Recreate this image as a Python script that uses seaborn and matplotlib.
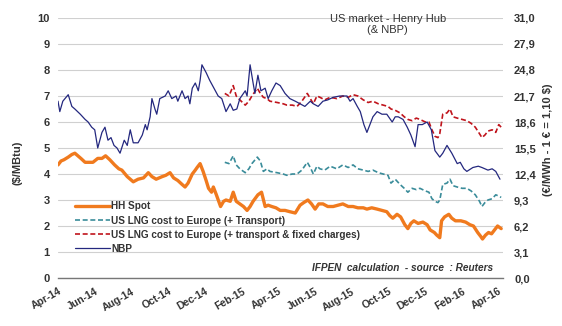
import matplotlib
matplotlib.use("Agg")
import matplotlib.pyplot as plt
import matplotlib.dates as mdates
import matplotlib.ticker as mticker
import seaborn as sns
import pandas as pd

# ---------------- data ----------------
nbp_dates = ["2014-04-01","2014-04-04","2014-04-09","2014-04-18","2014-04-24","2014-04-29","2014-05-08","2014-05-16",
 "2014-05-21","2014-05-27","2014-06-01","2014-06-06","2014-06-13","2014-06-18","2014-06-23","2014-06-28","2014-07-03",
 "2014-07-08","2014-07-13","2014-07-20","2014-07-25","2014-07-30","2014-08-04","2014-08-12","2014-08-19","2014-08-24",
 "2014-08-27","2014-09-01","2014-09-04","2014-09-09","2014-09-12","2014-09-17","2014-09-26","2014-10-01","2014-10-07",
 "2014-10-14","2014-10-17","2014-10-24","2014-10-29","2014-11-03","2014-11-06","2014-11-10","2014-11-15","2014-11-20",
 "2014-11-23","2014-11-26","2014-12-03","2014-12-09","2014-12-16","2014-12-23","2014-12-29","2015-01-05","2015-01-12",
 "2015-01-17","2015-01-23","2015-01-28","2015-02-06","2015-02-09","2015-02-14","2015-02-19","2015-02-22","2015-02-27",
 "2015-03-04","2015-03-11","2015-03-16","2015-03-22","2015-03-29","2015-04-05","2015-04-13","2015-04-21","2015-04-30",
 "2015-05-08","2015-05-16","2015-05-25","2015-05-30","2015-06-07","2015-06-15","2015-06-23","2015-07-02","2015-07-13",
 "2015-07-25","2015-07-30","2015-08-04","2015-08-11","2015-08-16","2015-08-22","2015-08-27","2015-09-01","2015-09-06",
 "2015-09-13","2015-09-21","2015-09-29","2015-10-08","2015-10-13","2015-10-18","2015-10-26","2015-11-02","2015-11-08",
 "2015-11-15","2015-11-20","2015-11-27","2015-12-05","2015-12-12","2015-12-18","2015-12-26","2015-12-31","2016-01-07",
 "2016-01-15","2016-01-24","2016-01-29","2016-02-04","2016-02-09","2016-02-19","2016-02-28","2016-03-05","2016-03-15",
 "2016-03-22","2016-03-28","2016-04-04"]
nbp_values = [6.8,6.4,6.8,7.05,6.6,6.5,6.3,6.1,6.0,5.8,5.7,5.0,5.6,5.8,5.3,5.4,5.1,5.0,4.8,5.3,5.1,5.7,5.2,5.2,5.5,5.9,
 5.7,6.2,6.9,6.5,6.3,6.9,7.0,7.2,6.9,7.0,6.8,7.2,6.9,7.0,6.7,7.3,7.5,7.2,7.6,8.2,7.9,7.6,7.3,7.0,6.9,6.4,6.7,6.45,6.5,
 6.9,7.2,7.0,8.2,7.5,7.1,7.8,7.2,7.3,6.9,7.2,7.5,7.4,7.1,6.9,6.8,6.7,6.6,6.8,6.7,6.6,6.8,6.85,6.95,7.0,7.0,6.8,6.9,
 6.6,6.4,5.9,5.6,5.9,6.2,6.4,6.3,6.3,6.0,6.2,6.2,6.1,5.8,5.5,5.05,5.9,5.9,6.0,5.7,4.9,4.65,4.8,5.1,4.8,4.4,4.45,4.2,
 4.1,4.25,4.3,4.25,4.15,4.2,4.1,3.8]

lng_dates = ["2015-01-03","2015-01-10","2015-01-17","2015-01-22","2015-01-28","2015-02-06","2015-02-12","2015-02-17",
 "2015-02-26","2015-03-03","2015-03-08","2015-03-14","2015-03-19","2015-03-31","2015-04-10","2015-04-16","2015-04-25",
 "2015-05-03","2015-05-11","2015-05-20","2015-05-25","2015-05-30","2015-06-05","2015-06-10","2015-06-18","2015-06-27",
 "2015-07-08","2015-07-18","2015-07-27","2015-08-04","2015-08-12","2015-08-21","2015-08-29","2015-09-06","2015-09-15",
 "2015-09-23","2015-10-01","2015-10-06","2015-10-13","2015-10-21","2015-10-28","2015-11-03","2015-11-10","2015-11-17",
 "2015-11-23","2015-12-02","2015-12-08","2015-12-13","2015-12-18","2015-12-23","2015-12-26","2015-12-31","2016-01-07",
 "2016-01-12","2016-01-17","2016-01-24","2016-02-01","2016-02-09","2016-02-16","2016-02-23","2016-03-01","2016-03-05",
 "2016-03-10","2016-03-15","2016-03-22","2016-03-28","2016-04-02","2016-04-06"]
lng_transport = [4.45,4.4,4.7,4.35,4.2,4.05,4.2,4.4,4.65,4.5,4.1,4.2,4.1,4.05,4.0,3.95,4.0,4.0,4.15,4.45,4.25,4.0,4.3,
 4.2,4.15,4.3,4.2,4.35,4.25,4.35,4.2,4.15,4.1,4.15,4.05,4.0,3.95,3.65,3.8,3.6,3.45,3.3,3.45,3.4,3.45,3.35,3.3,3.05,
 2.95,2.9,3.0,3.6,3.65,3.8,3.55,3.5,3.45,3.45,3.35,3.2,2.95,2.75,2.9,3.0,3.05,3.2,3.15,3.1]
lng_full = [7.1,7.0,7.4,7.0,6.85,6.65,6.8,7.0,7.3,7.1,6.95,6.9,6.8,6.75,6.7,6.65,6.65,6.6,6.8,7.1,6.9,6.7,7.0,6.95,
 6.85,6.95,6.9,7.0,6.95,7.05,7.0,6.85,6.75,6.8,6.7,6.65,6.6,6.5,6.45,6.35,6.2,6.1,6.05,6.15,6.1,6.0,6.0,5.7,5.45,
 5.4,5.55,6.3,6.35,6.5,6.2,6.15,6.1,6.05,5.95,5.8,5.55,5.4,5.5,5.65,5.7,5.6,5.9,5.8]

hh_dates = ["2014-04-01","2014-04-06","2014-04-11","2014-04-18","2014-04-24","2014-04-29","2014-05-04","2014-05-09",
 "2014-05-16","2014-05-21","2014-05-29","2014-06-06","2014-06-13","2014-06-19","2014-06-26","2014-07-04","2014-07-11",
 "2014-07-16","2014-07-25","2014-07-30","2014-08-04","2014-08-12","2014-08-21","2014-08-29","2014-09-04","2014-09-11",
 "2014-09-21","2014-09-27","2014-10-04","2014-10-10","2014-10-17","2014-10-24","2014-10-29","2014-11-03","2014-11-10",
 "2014-11-15","2014-11-18","2014-11-23","2014-11-28","2014-12-03","2014-12-07","2014-12-12","2014-12-15","2014-12-20",
 "2014-12-27","2015-01-01","2015-01-05","2015-01-12","2015-01-17","2015-01-22","2015-01-28","2015-02-03","2015-02-09",
 "2015-02-14","2015-02-19","2015-02-27","2015-03-05","2015-03-11","2015-03-16","2015-03-22","2015-03-29","2015-04-05",
 "2015-04-13","2015-04-21","2015-04-30","2015-05-08","2015-05-14","2015-05-21","2015-05-27","2015-06-02","2015-06-08",
 "2015-06-15","2015-06-23","2015-07-02","2015-07-10","2015-07-18","2015-07-27","2015-08-04","2015-08-12","2015-08-21",
 "2015-08-27","2015-09-04","2015-09-13","2015-09-21","2015-09-29","2015-10-04","2015-10-09","2015-10-16","2015-10-22",
 "2015-10-29","2015-11-03","2015-11-08","2015-11-13","2015-11-20","2015-11-28","2015-12-05","2015-12-10","2015-12-17",
 "2015-12-21","2015-12-26","2015-12-29","2016-01-03","2016-01-10","2016-01-15","2016-01-21","2016-01-30","2016-02-07",
 "2016-02-14","2016-02-20","2016-02-27","2016-03-03","2016-03-06","2016-03-11","2016-03-16","2016-03-21","2016-03-26",
 "2016-03-31","2016-04-06"]
hh_values = [4.35,4.5,4.55,4.65,4.75,4.8,4.7,4.6,4.45,4.45,4.45,4.6,4.6,4.7,4.55,4.35,4.2,4.15,3.9,3.8,3.7,3.8,3.85,
 4.05,3.9,3.8,3.9,3.95,4.05,3.85,3.75,3.6,3.5,3.65,4.0,4.15,4.25,4.4,4.1,3.75,3.45,3.3,3.5,3.2,2.75,2.95,3.0,2.95,
 3.3,2.95,2.85,2.75,2.6,2.75,2.95,3.2,3.3,2.75,2.8,2.75,2.7,2.6,2.6,2.55,2.5,2.8,2.9,3.0,2.85,2.65,2.85,2.85,2.75,
 2.75,2.8,2.85,2.75,2.75,2.7,2.7,2.65,2.7,2.65,2.6,2.55,2.4,2.3,2.45,2.35,2.05,1.9,2.1,2.2,2.1,2.15,2.05,1.85,1.75,
 1.65,1.55,2.2,2.35,2.45,2.3,2.2,2.2,2.15,2.05,2.0,1.75,1.6,1.5,1.65,1.75,1.7,1.85,2.0,1.9]

legend_labels = ["HH Spot", "US LNG cost to Europe (+ Transport)",
                 "US LNG cost to Europe (+ transport & fixed charges)", "NBP"]
tick_dates = ["2014-04-01","2014-06-01","2014-08-01","2014-10-01","2014-12-01","2015-02-01","2015-04-01",
              "2015-06-01","2015-08-01","2015-10-01","2015-12-01","2016-02-01","2016-04-01"]
right_ticks = [0.0, 3.1, 6.2, 9.3, 12.4, 15.5, 18.6, 21.7, 24.8, 27.9, 31.0]

# ---------------- plot ----------------
sns.set_style("white")
plt.rcParams['font.family'] = ['Liberation Sans', 'DejaVu Sans']
txt = "#333333"

fig = plt.figure(figsize=(5.62, 3.26), dpi=100)
ax = fig.add_axes([0.1032, 0.1472, 0.7918, 0.7976])

df_hh = pd.DataFrame({"date": pd.to_datetime(hh_dates), "v": hh_values})
df_lng = pd.DataFrame({"date": pd.to_datetime(lng_dates), "t": lng_transport, "f": lng_full})
df_nbp = pd.DataFrame({"date": pd.to_datetime(nbp_dates), "v": nbp_values})

sns.lineplot(data=df_hh, x="date", y="v", ax=ax, color="#F07A1E", lw=2.4, label=legend_labels[0])
sns.lineplot(data=df_lng, x="date", y="t", ax=ax, color="#3A8C9A", lw=1.2, ls=(0, (3, 1.6)), label=legend_labels[1])
sns.lineplot(data=df_lng, x="date", y="f", ax=ax, color="#C0141C", lw=1.2, ls=(0, (3, 1.6)), label=legend_labels[2])
sns.lineplot(data=df_nbp, x="date", y="v", ax=ax, color="#24287F", lw=0.9, label=legend_labels[3])

ax.set_ylim(0, 10)
ax.set_yticks(range(0, 11))
ax.set_xlim(pd.Timestamp("2014-04-01"), pd.Timestamp("2016-04-09"))
ax.set_xticks(pd.to_datetime(tick_dates))
ax.xaxis.set_major_formatter(mdates.DateFormatter("%b-%y"))
ax.grid(axis="y", color="#D0D0D0", lw=0.8)
ax.grid(axis="x", visible=False)
for s in ["top", "right", "left"]:
    ax.spines[s].set_visible(False)
ax.spines["bottom"].set_color("#777777")
ax.spines["bottom"].set_linewidth(1.0)
ax.tick_params(axis="x", length=4, width=0.8, color="#777777", direction="out", pad=2,
               labelsize=7.5, labelcolor=txt)
ax.tick_params(axis="y", length=0, labelsize=8, labelcolor=txt, pad=6)
for lab in ax.get_xticklabels():
    lab.set_rotation(30)
    lab.set_ha("right")
    lab.set_rotation_mode("anchor")
    lab.set_fontweight("bold")
for lab in ax.get_yticklabels():
    lab.set_fontweight("bold")
ax.set_xlabel("")
ax.set_ylabel("")

ax2 = ax.twinx()
ax2.set_ylim(0, 31)
ax2.set_yticks(right_ticks)
ax2.yaxis.set_major_formatter(mticker.FuncFormatter(lambda v, p: f"{v:.1f}".replace(".", ",")))
for s in ["top", "right", "left", "bottom"]:
    ax2.spines[s].set_visible(False)
ax2.tick_params(axis="y", length=0, labelsize=8, labelcolor=txt, pad=8)
for lab in ax2.get_yticklabels():
    lab.set_fontweight("bold")
ax2.grid(False)

leg = ax.legend(loc="upper left", bbox_to_anchor=(0.038, 0.295), frameon=False, fontsize=7.2,
                handlelength=3.5, handletextpad=0.15, labelspacing=0.42, borderaxespad=0, borderpad=0)
for t in leg.get_texts():
    t.set_color(txt)
    t.set_fontweight("bold")

fig.text(0.032, 0.50, "($/MBtu)", rotation=90, ha="center", va="center", fontsize=8,
         fontweight="bold", color=txt)
fig.text(0.975, 0.57, "(€/MWh - 1 € = 1,10 $)", rotation=90, ha="center", va="center", fontsize=8,
         fontweight="bold", color=txt)
fig.text(0.69, 0.925, "US market - Henry Hub\n(& NBP)", ha="center", va="center", fontsize=8,
         color=txt, linespacing=1.1)
fig.text(0.877, 0.178, "IFPEN  calculation  - source  : Reuters", ha="right", va="center", fontsize=7.2,
         style="italic", fontweight="bold", color=txt)

fig.savefig("out.png", dpi=100)
